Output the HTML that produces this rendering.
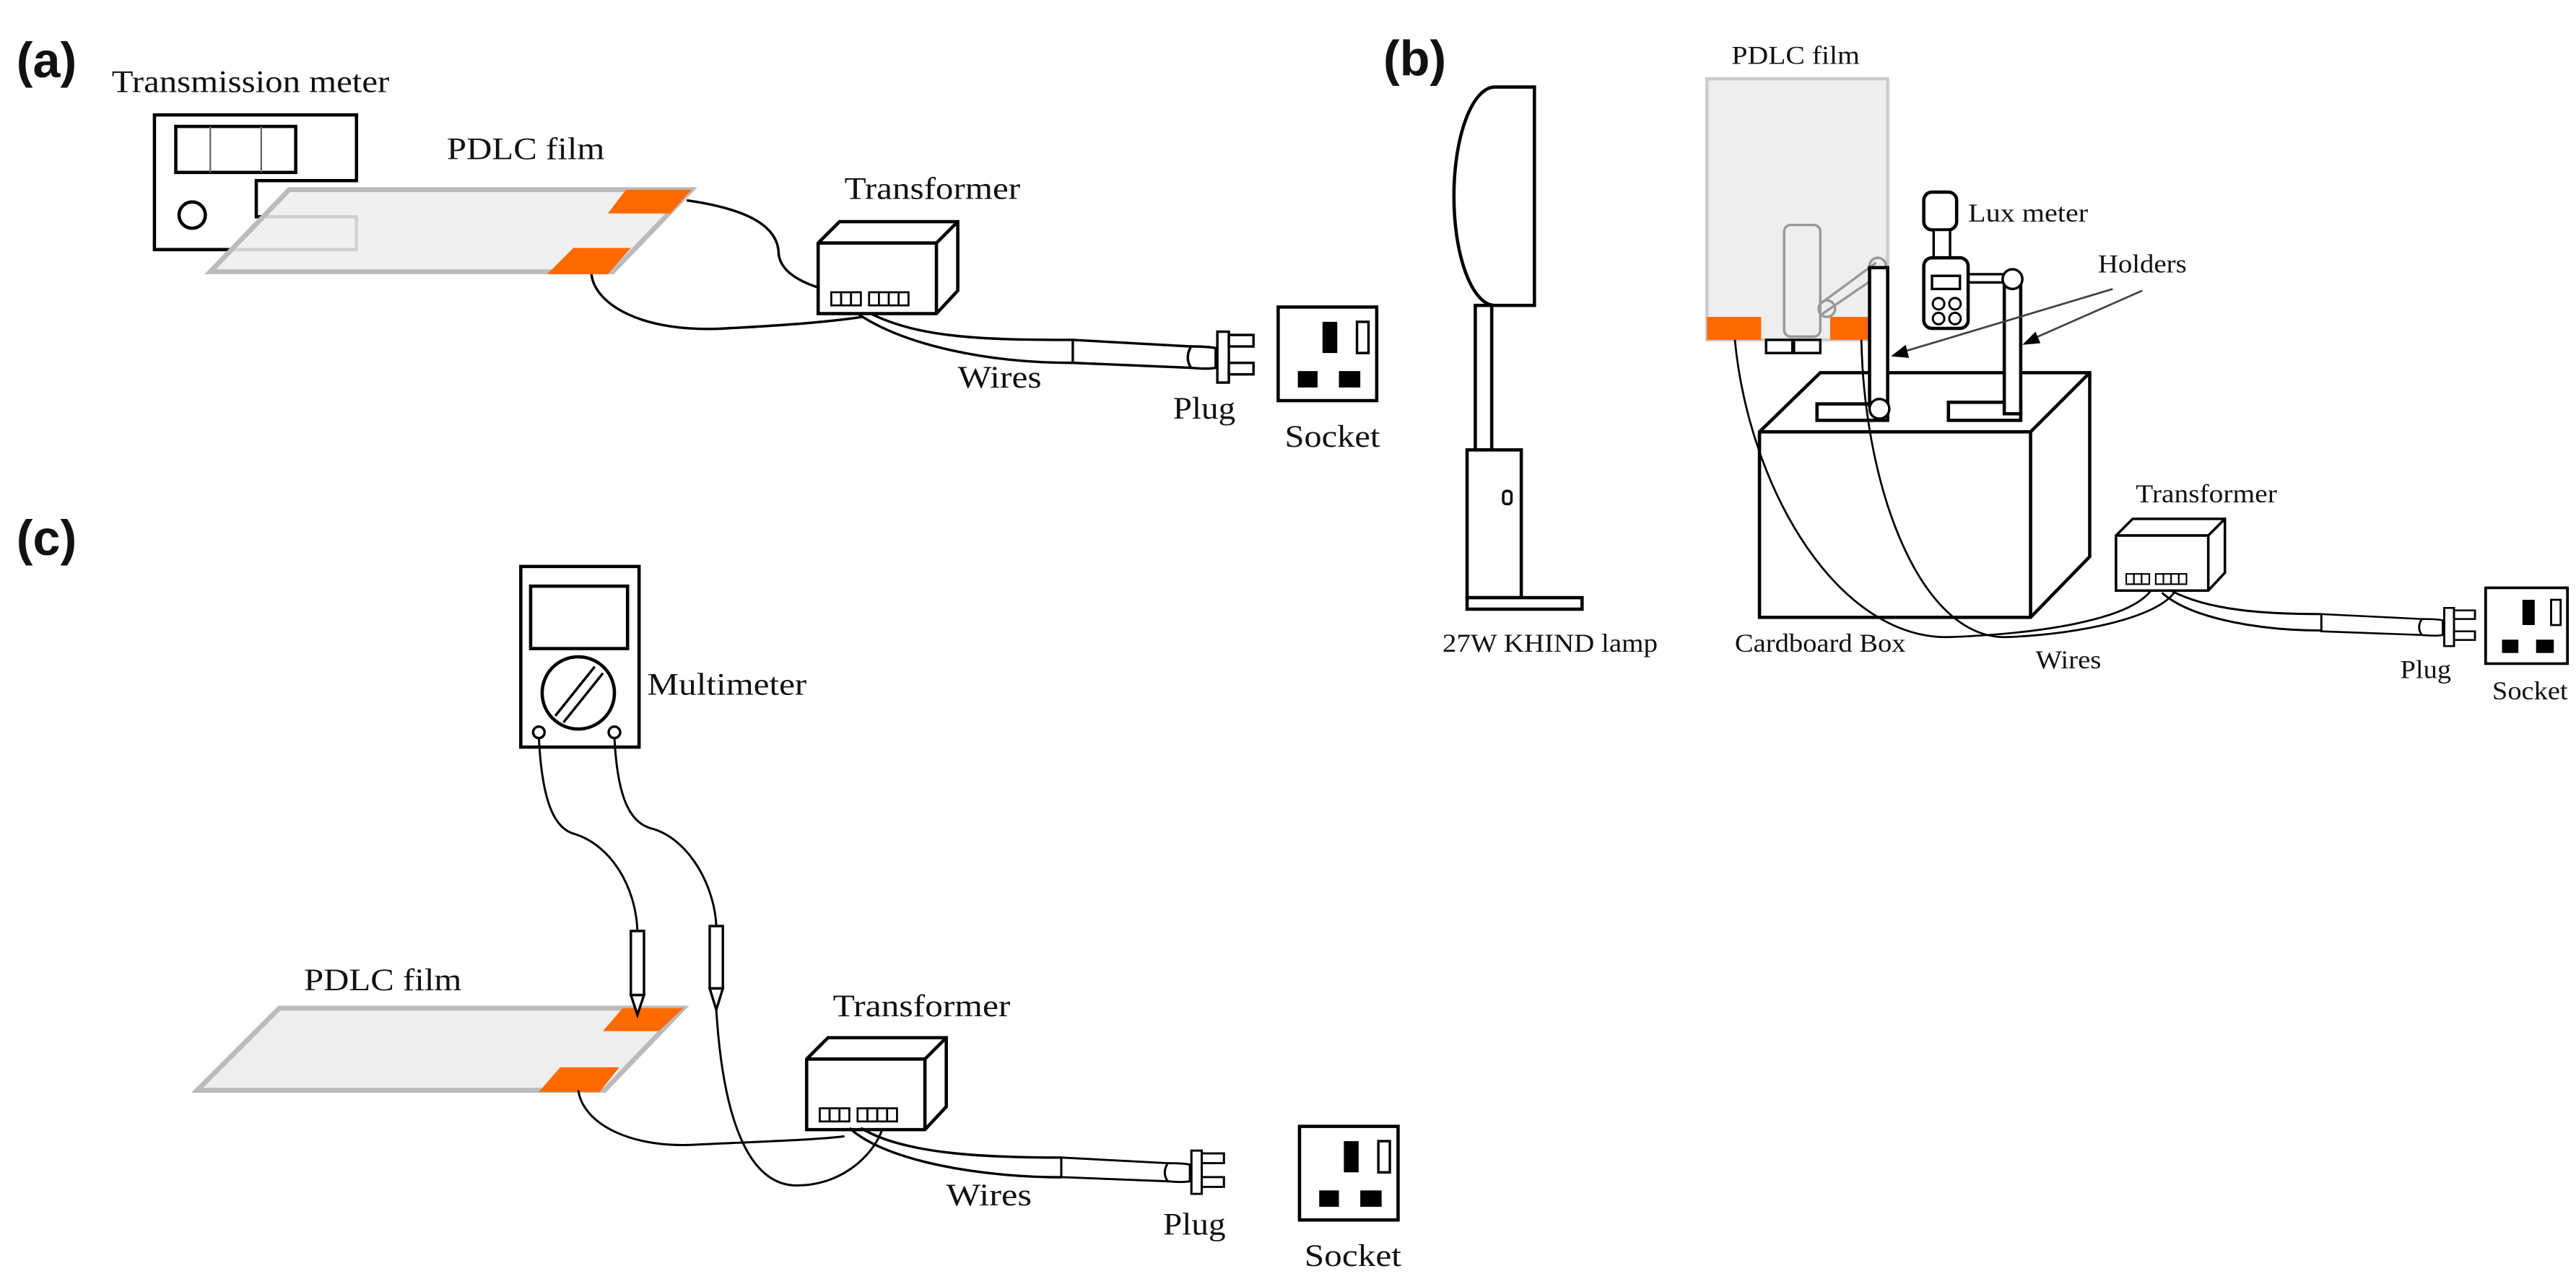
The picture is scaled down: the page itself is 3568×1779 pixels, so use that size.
<!DOCTYPE html>
<html><head><meta charset="utf-8"><style>
html,body{margin:0;padding:0;background:#fff;}
svg{display:block;}
text{font-family:"Liberation Serif",serif;fill:#111;}
.lab{font-family:"Liberation Sans",sans-serif;font-weight:bold;font-size:30px;}
</style></head><body>
<svg width="3568" height="1779" viewBox="0 0 1568 782" preserveAspectRatio="none" xmlns="http://www.w3.org/2000/svg">
<defs>
<g id="sock">
 <rect x="0" y="0" width="60" height="57" fill="#fff" stroke="#000" stroke-width="2"/>
 <rect x="27" y="9" width="9" height="19" fill="#000"/>
 <rect x="48" y="9" width="7" height="19" fill="#fff" stroke="#000" stroke-width="1.5"/>
 <rect x="12" y="39" width="12" height="10" fill="#000"/>
 <rect x="37" y="39" width="13" height="10" fill="#000"/>
</g>
<g id="plug" fill="#fff" stroke="#000" stroke-width="1.5">
 <path d="M0,0 L0,14 L72,17 L72,4 Z"/>
 <path d="M72,4 Q82,4 87,5 L87,17 Q82,18 72,17 Q68,11 72,4 Z"/>
 <rect x="88" y="-5" width="7" height="31" />
 <rect x="95" y="-3" width="15" height="7"/>
 <rect x="95" y="14" width="15" height="7"/>
</g>
<g id="trans" fill="#fff" stroke="#000" stroke-width="2">
 <path d="M0,13 L13,0 L85,0 L85,42 L72,56 L0,56 Z"/>
 <path d="M0,13 L72,13 L85,0 M72,13 L72,56" fill="none"/>
 <g stroke-width="1.2">
 <rect x="8" y="43" width="6" height="8"/><rect x="14" y="43" width="6" height="8"/><rect x="20" y="43" width="6" height="8"/>
 <rect x="31" y="43" width="6" height="8"/><rect x="37" y="43" width="6" height="8"/><rect x="43" y="43" width="6" height="8"/><rect x="49" y="43" width="6" height="8"/>
 </g>
</g>
</defs>

<!-- (a) -->
<text class="lab" x="10" y="47">(a)</text>
<text x="68" y="56" font-size="19" textLength="169" lengthAdjust="spacingAndGlyphs">Transmission meter</text>
<path d="M94,70 L217,70 L217,110 L156,110 L156,132 L217,132 L217,152 L94,152 Z" fill="#fff" stroke="#000" stroke-width="2"/>
<rect x="107" y="77" width="73" height="28" fill="#fff" stroke="#000" stroke-width="2"/>
<line x1="128" y1="77" x2="128" y2="105" stroke="#666" stroke-width="1"/>
<line x1="159" y1="77" x2="159" y2="105" stroke="#666" stroke-width="1"/>
<circle cx="117" cy="131" r="8" fill="none" stroke="#000" stroke-width="2"/>
<path d="M176,115.5 L421,115.5 L373,165.5 L128,165.5 Z" fill="#eee" fill-opacity="0.88" stroke="#bbb" stroke-width="3"/>
<path d="M381,115.5 L421,115.5 L408,130 L370,130 Z" fill="#ff6a00"/>
<path d="M349,151 L384,151 L370,167 L333,167 Z" fill="#ff6a00"/>
<text x="272" y="97" font-size="19" textLength="96" lengthAdjust="spacingAndGlyphs">PDLC film</text>
<text x="514" y="121" font-size="19" textLength="107" lengthAdjust="spacingAndGlyphs">Transformer</text>
<path d="M418,122 C460,128 474,140 474,155 C476,170 500,178 525,180" fill="none" stroke="#000" stroke-width="1.5"/>
<path d="M360,167 C362,185 390,203 442,200 C480,198 505,196 525,193" fill="none" stroke="#000" stroke-width="1.5"/>
<use href="#trans" x="498" y="135"/>
<path d="M530,191 C560,206 600,207 653,207 M522,191 C550,210 600,221 653,221" fill="none" stroke="#000" stroke-width="1.5"/>
<use href="#plug" x="653" y="207"/>
<use href="#sock" x="778" y="187"/>
<text x="583" y="236" font-size="19" textLength="51" lengthAdjust="spacingAndGlyphs">Wires</text>
<text x="714" y="255" font-size="19" textLength="38" lengthAdjust="spacingAndGlyphs">Plug</text>
<text x="782" y="272" font-size="19" textLength="58" lengthAdjust="spacingAndGlyphs">Socket</text>

<!-- (b) -->
<text class="lab" x="842" y="46">(b)</text>
<path d="M934,53 L910,53 A25,66.5 0 0 0 910,186 L934,186 Z" fill="#fff" stroke="#000" stroke-width="2"/>
<rect x="898" y="186" width="10" height="88" fill="#fff" stroke="#000" stroke-width="2"/>
<rect x="893" y="274" width="33" height="90" fill="#fff" stroke="#000" stroke-width="2"/>
<rect x="915" y="299" width="5" height="8" rx="2" fill="#fff" stroke="#000" stroke-width="1.5"/>
<rect x="893" y="364" width="70" height="7" fill="#fff" stroke="#000" stroke-width="2"/>
<text x="878" y="397" font-size="16" textLength="131" lengthAdjust="spacingAndGlyphs">27W KHIND lamp</text>

<rect x="1039" y="48" width="110" height="159" fill="#eee" stroke="#ccc" stroke-width="2"/>
<rect x="1086" y="137" width="22" height="68" rx="4" fill="none" stroke="#999" stroke-width="1.5"/>
<path d="M1108,185 L1142,160 M1108,192 L1146,166" stroke="#999" stroke-width="1.5" fill="none"/>
<circle cx="1112" cy="188" r="5" fill="none" stroke="#999" stroke-width="1.5"/>
<circle cx="1143" cy="162" r="5" fill="none" stroke="#999" stroke-width="1.5"/>
<text x="1054" y="39" font-size="16" textLength="78" lengthAdjust="spacingAndGlyphs">PDLC film</text>
<rect x="1039" y="193" width="33" height="14" fill="#ff6a00"/>
<rect x="1114" y="193" width="35" height="14" fill="#ff6a00"/>
<rect x="1075" y="207" width="16" height="8" fill="#fff" stroke="#000" stroke-width="1.5"/>
<rect x="1092" y="207" width="16" height="8" fill="#fff" stroke="#000" stroke-width="1.5"/>

<!-- box -->
<path d="M1071,263 L1108,227 L1272,227 L1272,339 L1236,376 L1071,376 Z" fill="#fff" stroke="#000" stroke-width="2"/>
<path d="M1071,263 L1236,263 L1272,227 M1236,263 L1236,376" fill="none" stroke="#000" stroke-width="2"/>
<!-- holders -->
<rect x="1106" y="246" width="43" height="10" fill="#fff" stroke="#000" stroke-width="2"/>
<rect x="1138" y="163" width="11" height="84" fill="#fff" stroke="#000" stroke-width="2"/>
<circle cx="1144" cy="249" r="6" fill="#fff" stroke="#000" stroke-width="1.5"/>
<rect x="1186" y="245" width="44" height="11" fill="#fff" stroke="#000" stroke-width="2"/>
<rect x="1220" y="170" width="10" height="82" fill="#fff" stroke="#000" stroke-width="2"/>
<rect x="1197" y="167" width="28" height="5" fill="#fff" stroke="#000" stroke-width="1.5"/>
<circle cx="1225" cy="170" r="6" fill="#fff" stroke="#000" stroke-width="1.5"/>
<!-- lux meter -->
<rect x="1171" y="117" width="20" height="23" rx="5" fill="#fff" stroke="#000" stroke-width="2"/>
<rect x="1177" y="140" width="10" height="18" fill="#fff" stroke="#000" stroke-width="1.5"/>
<rect x="1171" y="157" width="27" height="43" rx="5" fill="#fff" stroke="#000" stroke-width="2"/>
<rect x="1176" y="168" width="17" height="8" fill="#fff" stroke="#000" stroke-width="1.5"/>
<g fill="#fff" stroke="#000" stroke-width="1.3"><circle cx="1180" cy="185" r="3.5"/><circle cx="1190" cy="185" r="3.5"/><circle cx="1180" cy="194" r="3.5"/><circle cx="1190" cy="194" r="3.5"/></g>
<text x="1198" y="135" font-size="16" textLength="73" lengthAdjust="spacingAndGlyphs">Lux meter</text>
<text x="1277" y="166" font-size="16" textLength="54" lengthAdjust="spacingAndGlyphs">Holders</text>
<line x1="1286" y1="176" x2="1156" y2="215" stroke="#444" stroke-width="1.2"/>
<path d="M1151,217 L1160,210 L1162,218 Z" fill="#000"/>
<line x1="1304" y1="177" x2="1236" y2="207" stroke="#444" stroke-width="1.2"/>
<path d="M1231,210 L1239,202 L1242,209 Z" fill="#000"/>
<text x="1056" y="397" font-size="16" textLength="104" lengthAdjust="spacingAndGlyphs">Cardboard Box</text>
<!-- wires -->
<path d="M1056,207 C1065,300 1120,390 1187,388 C1240,386 1295,378 1309,360" fill="none" stroke="#000" stroke-width="1.2"/>
<path d="M1133,207 C1135,300 1170,390 1222,388 C1270,386 1315,375 1324,360" fill="none" stroke="#000" stroke-width="1.2"/>
<g transform="translate(1288,316) scale(0.78,0.78)"><use href="#trans"/></g>
<text x="1300" y="306" font-size="16" textLength="86" lengthAdjust="spacingAndGlyphs">Transformer</text>
<path d="M1322,360 C1345,372 1380,374 1413,374 M1316,361 C1335,378 1380,384 1413,384" fill="none" stroke="#000" stroke-width="1.3"/>
<g transform="translate(1413,374) scale(0.85,0.75)"><use href="#plug"/></g>
<g transform="translate(1513,358) scale(0.83,0.81)"><use href="#sock"/></g>
<text x="1239" y="407" font-size="16" textLength="40" lengthAdjust="spacingAndGlyphs">Wires</text>
<text x="1461" y="413" font-size="16" textLength="31" lengthAdjust="spacingAndGlyphs">Plug</text>
<text x="1517" y="426" font-size="16" textLength="46" lengthAdjust="spacingAndGlyphs">Socket</text>

<!-- (c) -->
<text class="lab" x="10" y="338">(c)</text>
<rect x="317" y="345" width="72" height="110" fill="#fff" stroke="#000" stroke-width="2"/>
<rect x="323" y="357" width="59" height="38" fill="#fff" stroke="#000" stroke-width="2"/>
<circle cx="352" cy="422" r="22" fill="#fff" stroke="#000" stroke-width="2"/>
<path d="M338,436 L362,406 M343,440 L367,410" stroke="#000" stroke-width="1.5"/>
<circle cx="328" cy="446" r="3.5" fill="#fff" stroke="#000" stroke-width="1.5"/>
<circle cx="374" cy="446" r="3.5" fill="#fff" stroke="#000" stroke-width="1.5"/>
<text x="394" y="423" font-size="19" textLength="97" lengthAdjust="spacingAndGlyphs">Multimeter</text>
<path d="M328,449 C330,490 338,505 350,508 C372,515 387,540 388,567" fill="none" stroke="#000" stroke-width="1.3"/>
<path d="M374,449 C376,490 385,502 398,505 C420,512 435,540 436,564" fill="none" stroke="#000" stroke-width="1.3"/>
<path d="M170,614 L416,614 L368,664 L120,664 Z" fill="#eee" stroke="#bbb" stroke-width="3"/>
<path d="M379,614 L416,614 L401,628 L367,628 Z" fill="#ff6a00"/>
<path d="M341,650 L377,650 L365,665 L328,665 Z" fill="#ff6a00"/>
<rect x="384" y="567" width="8" height="39" fill="#fff" stroke="#000" stroke-width="1.5"/>
<path d="M384,606 L392,606 L388,618 Z" fill="#fff" stroke="#000" stroke-width="1.5"/>
<rect x="432" y="564" width="8" height="38" fill="#fff" stroke="#000" stroke-width="1.5"/>
<path d="M432,602 L440,602 L436,615 Z" fill="#fff" stroke="#000" stroke-width="1.5"/>
<text x="185" y="603" font-size="19" textLength="96" lengthAdjust="spacingAndGlyphs">PDLC film</text>
<text x="507" y="619" font-size="19" textLength="108" lengthAdjust="spacingAndGlyphs">Transformer</text>
<path d="M352,664 C355,685 385,700 426,697 C470,695 500,694 514,692" fill="none" stroke="#000" stroke-width="1.3"/>
<path d="M436,615 C440,680 455,722 485,722 C515,722 535,700 538,684" fill="none" stroke="#000" stroke-width="1.3"/>
<use href="#trans" x="491" y="632"/>
<path d="M524,687 C550,703 600,705 646,705 M517,687 C540,708 600,717 646,717" fill="none" stroke="#000" stroke-width="1.5"/>
<g transform="translate(646,705) scale(0.9,0.85)"><use href="#plug"/></g>
<use href="#sock" x="791" y="686"/>
<text x="576" y="734" font-size="19" textLength="52" lengthAdjust="spacingAndGlyphs">Wires</text>
<text x="708" y="752" font-size="19" textLength="38" lengthAdjust="spacingAndGlyphs">Plug</text>
<text x="794" y="771" font-size="19" textLength="59" lengthAdjust="spacingAndGlyphs">Socket</text>
</svg>
</body></html>
